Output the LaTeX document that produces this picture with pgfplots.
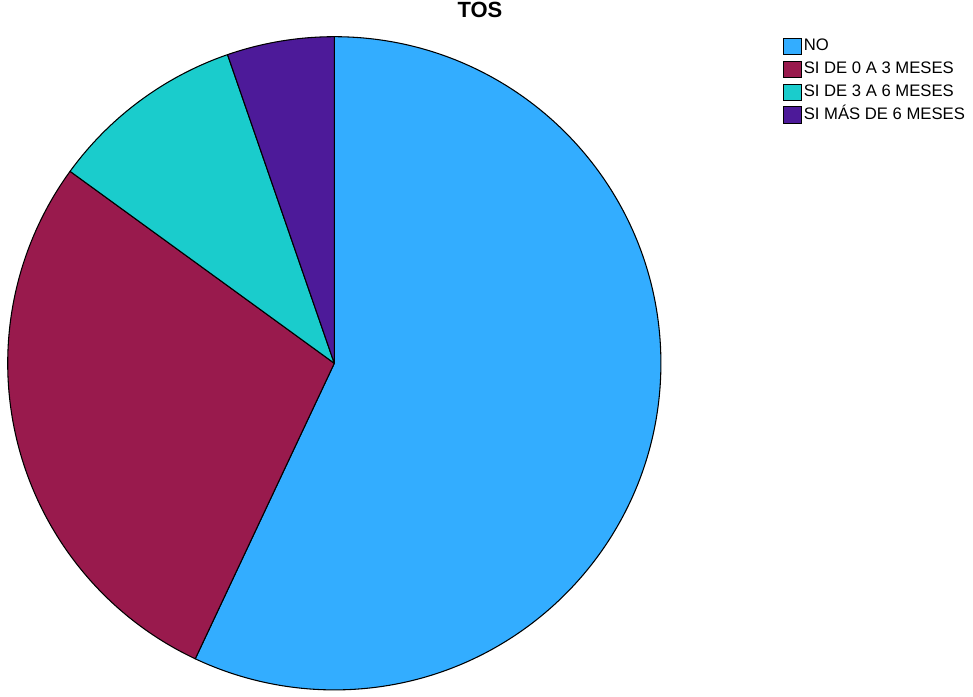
\documentclass[border=0pt]{standalone}
\usepackage{fontspec}
\setmainfont{Liberation Sans}
\usepackage{pgfplots}
\usepackage{pgfplotstable}
\pgfplotsset{compat=1.18}
\definecolor{slice0}{RGB}{51,173,255}
\definecolor{slice1}{RGB}{153,26,77}
\definecolor{slice2}{RGB}{26,204,204}
\definecolor{slice3}{RGB}{77,26,153}
% share of each answer, in percent (NO, SI 0-3, SI 3-6, SI >6)
\pgfplotstableread{
value
57.0
28.0
9.7
5.3
}\piedata
\begin{document}
\begin{tikzpicture}
\begin{axis}[
  width=729.75pt, height=522pt, scale only axis,
  xmin=0, xmax=973, ymin=0, ymax=696,
  hide axis, clip=false,
  title={TOS},
  title style={at={(axis description cs:0.4933,0.974)}, anchor=center, font=\bfseries\fontsize{16.5}{19}\selectfont},
  legend style={at={(axis cs:782.7,658.3)}, anchor=north west, draw=none, fill=none,
    font=\fontsize{12.5}{15}\selectfont, inner sep=0pt, row sep=4.3pt,
    nodes={inner xsep=1.5pt, inner ysep=0pt, text height=9.2pt, text depth=2.5pt}},
  legend cell align=left,
  legend image code/.code={\draw[#1] (0pt,-6.1pt) rectangle (13.5pt,6.1pt);},
]
\def\angA{90}
\pgfplotsforeachungrouped \i in {0,...,3}{%
  \pgfplotstablegetelem{\i}{value}\of\piedata
  \pgfmathsetmacro{\angB}{\angA-3.6*\pgfplotsretval}%
  \edef\temp{\noexpand\filldraw[fill=slice\i, draw=black, line width=0.8pt, line join=round]
    (axis cs:334.3,332.7) -- ++(\angA:244.95pt) arc[start angle=\angA, end angle=\angB, radius=244.95pt] -- cycle;}%
  \temp
  \global\let\angA\angB
}
\addlegendimage{fill=slice0, draw=black, line width=0.6pt}
\addlegendentry{NO}
\addlegendimage{fill=slice1, draw=black, line width=0.6pt}
\addlegendentry{SI DE 0 A 3 MESES}
\addlegendimage{fill=slice2, draw=black, line width=0.6pt}
\addlegendentry{SI DE 3 A 6 MESES}
\addlegendimage{fill=slice3, draw=black, line width=0.6pt}
\addlegendentry{SI MÁS DE 6 MESES}
\end{axis}
\pgfresetboundingbox
\path (current axis.south west) rectangle (current axis.north east);
\end{tikzpicture}
\end{document}
